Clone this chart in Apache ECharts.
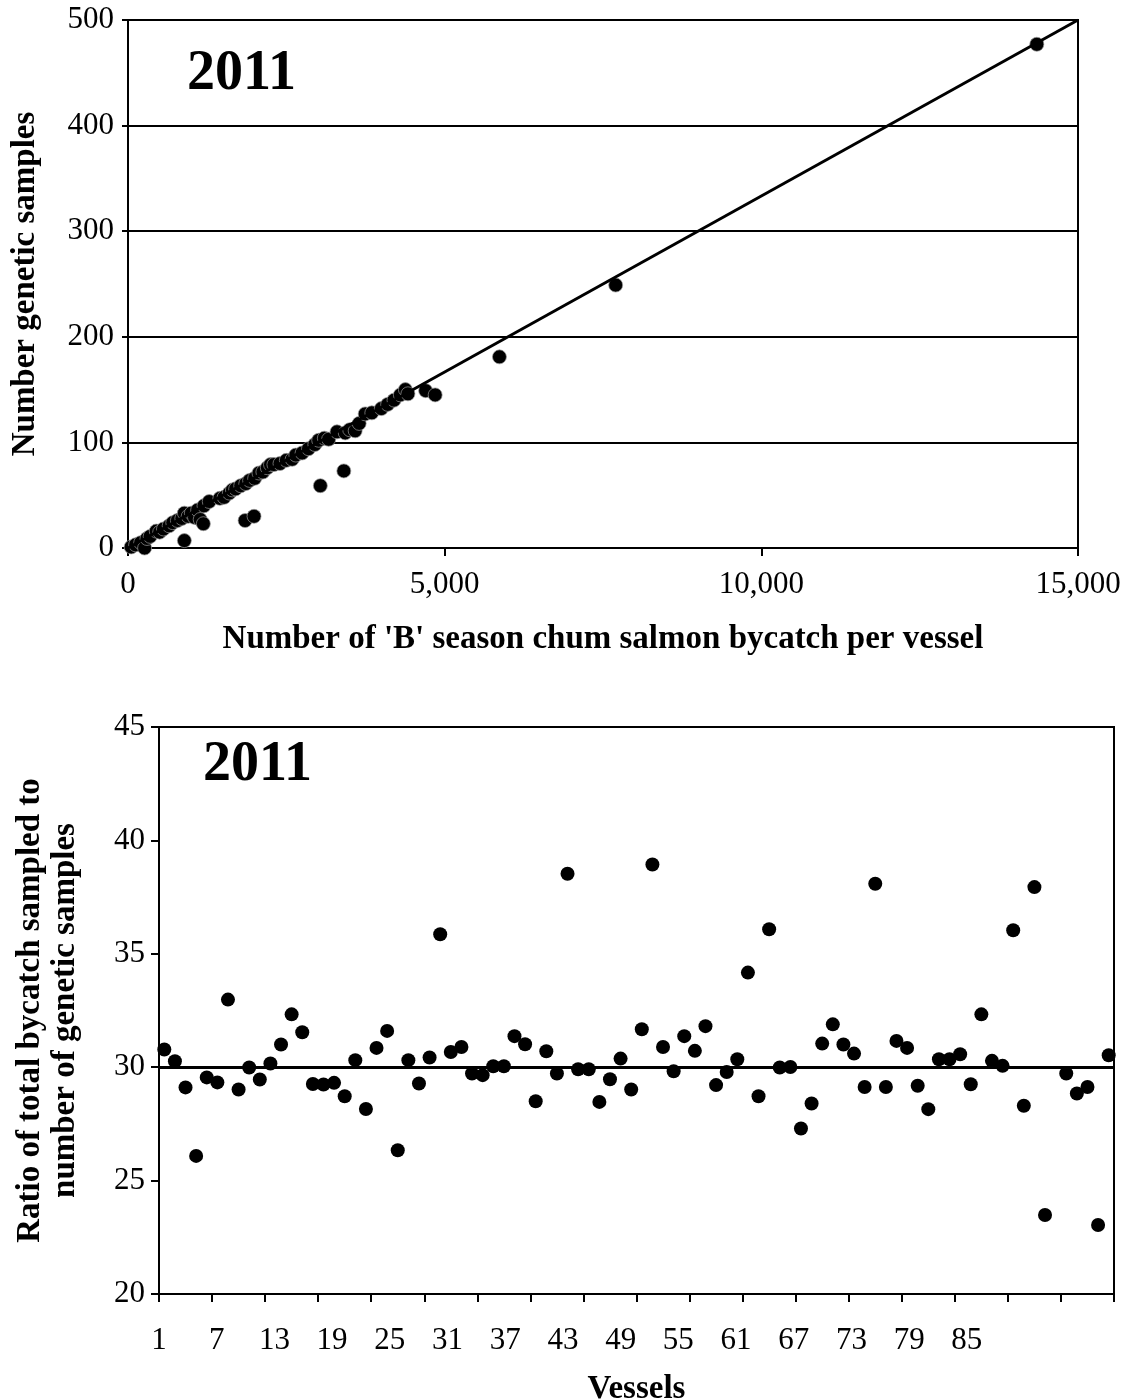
<!DOCTYPE html>
<html>
<head>
<meta charset="utf-8">
<script src="https://cdn.jsdelivr.net/npm/echarts@6/dist/echarts.min.js"></script>
<style>
  html, body { margin: 0; padding: 0; background: #fff; }
  #chart { width: 1134px; height: 1400px; }
</style>
</head>
<body>
<div id="chart"></div>
<script>
// top panel: 'B' season chum bycatch per vessel vs number of genetic samples
const bycatch = [50, 120, 200, 262, 300, 350, 446, 500, 560, 650, 707, 780, 850, 890, 890, 950, 1000, 1050, 1100, 1140,
  1190, 1200, 1283, 1450, 1518, 1600, 1649, 1700, 1780, 1849, 1860, 1920, 1990, 2000, 2068, 2130, 2200, 2250, 2304, 2400,
  2500, 2592, 2650, 2749, 2850, 2950, 3011, 3037, 3100, 3168, 3300, 3408, 3430, 3500, 3587, 3650, 3745, 3850, 4000, 4100,
  4200, 4300, 4380, 4420, 4700, 4850, 5865, 7700, 14350];
const samples = [1, 3, 5, 0, 9, 11, 16, 15, 18, 21, 24, 26, 28, 7, 33, 30, 33, 29, 36, 27,
  23, 40, 44, 47, 48, 52, 55, 56, 59, 26, 61, 64, 30, 66, 71, 72, 76, 79, 79, 80,
  83, 84, 88, 90, 94, 98, 102, 59, 104, 103, 110, 73, 109, 112, 111, 118, 127, 128, 132, 136,
  140, 145, 150, 146, 149, 145, 181, 249, 477];
const refLineX = [0, 15000];
const refLineY = [0, 500];

// bottom panel: ratio of bycatch sampled to genetic samples, per vessel
const vessels = ['1','2','3','4','5','6','7','8','9','10','11','12','13','14','15','16','17','18','19','20',
  '21','22','23','24','25','26','27','28','29','30','31','32','33','34','35','36','37','38','39','40',
  '41','42','43','44','45','46','47','48','49','50','51','52','53','54','55','56','57','58','59','60',
  '61','62','63','64','65','66','67','68','69','70','71','72','73','74','75','76','77','78','79','80',
  '81','82','83','84','85','86','87','88','89','90'];
const ratio = [30.78, 30.26, 29.11, 26.09, 29.55, 29.33, 32.98, 29.02, 29.99, 29.46,
  30.16, 31.0, 32.33, 31.54, 29.26, 29.24, 29.31, 28.72, 30.31, 28.16,
  30.85, 31.6, 26.34, 30.31, 29.28, 30.43, 35.86, 30.67, 30.89, 29.72,
  29.65, 30.04, 30.04, 31.37, 31.01, 28.5, 30.7, 29.72, 38.53, 29.91,
  29.91, 28.47, 29.47, 30.38, 29.02, 31.67, 38.94, 30.89, 29.82, 31.37,
  30.72, 31.81, 29.21, 29.79, 30.35, 34.17, 28.72, 36.08, 29.99, 30.01,
  27.3, 28.4, 31.04, 31.89, 31.0, 30.6, 29.13, 38.09, 29.13, 31.16,
  30.85, 29.18, 28.15, 30.35, 30.35, 30.57, 29.25, 32.33, 30.28, 30.06,
  36.04, 28.3, 37.94, 23.48, '-', 29.72, 28.84, 29.13, 23.04, 30.53];
// the printed vessel labels sit on their own even spacing, not on the points
const vesselTickLabels = ['1', '7', '13', '19', '25', '31', '37', '43', '49', '55', '61', '67', '73', '79', '85'];
const targetRatio = 30;
const yearLabel = '2011';

const font = "'Liberation Serif', 'DejaVu Serif', serif";
const black = '#000';
const titleSize = 33;
const tickSize = 31;

const chart = echarts.init(document.getElementById('chart'));

const option = {
  backgroundColor: '#fff',
  animation: false,
  textStyle: { fontFamily: font, color: black },
  title: [
    { text: yearLabel, left: 182, top: 42, textStyle: { fontFamily: font, fontSize: 56, fontWeight: 'bold', color: black } },
    { text: yearLabel, left: 198, top: 733, textStyle: { fontFamily: font, fontSize: 56, fontWeight: 'bold', color: black } }
  ],
  grid: [
    { left: 128, right: 56, top: 20, height: 528, show: true, borderColor: black, borderWidth: 2, outerBoundsMode: 'none' },
    { left: 159, right: 20, top: 727, height: 567, show: true, borderColor: black, borderWidth: 2, outerBoundsMode: 'none' }
  ],
  xAxis: [
    {
      gridIndex: 0, type: 'value', min: 0, max: 15000, interval: 5000,
      name: "Number of 'B' season chum salmon bycatch per vessel",
      nameLocation: 'middle', nameGap: 75,
      nameTextStyle: { fontFamily: font, fontSize: titleSize, fontWeight: 'bold', color: black },
      axisLine: { show: true, lineStyle: { color: black, width: 2 } },
      axisTick: { show: true, inside: false, length: 8, lineStyle: { color: black, width: 2 } },
      axisLabel: { fontFamily: font, fontSize: tickSize, color: black, margin: 21,
        formatter: v => v.toLocaleString('en-US') },
      splitLine: { show: false }
    },
    {
      gridIndex: 1, type: 'category', data: vessels, boundaryGap: true,
      axisLine: { show: true, lineStyle: { color: black, width: 2 } },
      axisTick: { show: true, inside: false, interval: 4, length: 8, alignWithLabel: false, lineStyle: { color: black, width: 2 } },
      axisLabel: { show: false },
      splitLine: { show: false }
    },
    {
      gridIndex: 1, type: 'value', min: 0, max: 16.55, interval: 1, position: 'bottom',
      name: 'Vessels', nameLocation: 'middle', nameGap: 79,
      nameTextStyle: { fontFamily: font, fontSize: titleSize, fontWeight: 'bold', color: black },
      axisLine: { show: false },
      axisTick: { show: false },
      axisLabel: { fontFamily: font, fontSize: tickSize, color: black, margin: 31,
        showMinLabel: true, showMaxLabel: false,
        formatter: v => (Number.isInteger(v) && vesselTickLabels[v]) ? vesselTickLabels[v] : '' },
      splitLine: { show: false }
    }
  ],
  yAxis: [
    {
      gridIndex: 0, type: 'value', min: 0, max: 500, interval: 100,
      name: 'Number genetic samples', nameLocation: 'middle', nameGap: 86, nameRotate: 90,
      nameTextStyle: { fontFamily: font, fontSize: titleSize, fontWeight: 'bold', color: black },
      axisLine: { show: true, lineStyle: { color: black, width: 2 } },
      axisTick: { show: true, inside: false, length: 6, lineStyle: { color: black, width: 2 } },
      axisLabel: { fontFamily: font, fontSize: tickSize, color: black, margin: 14 },
      splitLine: { show: true, lineStyle: { color: black, width: 2 } }
    },
    {
      gridIndex: 1, type: 'value', min: 20, max: 45, interval: 5,
      name: 'Ratio of total bycatch sampled to\nnumber of genetic samples',
      nameLocation: 'middle', nameGap: 76, nameRotate: 90,
      nameTextStyle: { fontFamily: font, fontSize: titleSize, fontWeight: 'bold', color: black, lineHeight: 35 },
      axisLine: { show: true, lineStyle: { color: black, width: 2 } },
      axisTick: { show: true, inside: false, length: 8, lineStyle: { color: black, width: 2 } },
      axisLabel: { fontFamily: font, fontSize: tickSize, color: black, margin: 14 },
      splitLine: { show: false }
    }
  ],
  series: [
    {
      type: 'scatter', xAxisIndex: 0, yAxisIndex: 0,
      data: bycatch.map((b, i) => [b, samples[i]]),
      symbol: 'circle', symbolSize: 14,
      itemStyle: { color: black, opacity: 1, borderColor: '#999', borderWidth: 0.7 }
    },
    {
      type: 'line', xAxisIndex: 0, yAxisIndex: 0,
      data: refLineX.map((x, i) => [x, refLineY[i]]),
      showSymbol: false, symbol: 'none',
      lineStyle: { color: black, width: 3 }, z: 3
    },
    {
      type: 'scatter', xAxisIndex: 1, yAxisIndex: 1,
      data: ratio,
      symbol: 'circle', symbolSize: 14,
      itemStyle: { color: black, opacity: 1 },
      markLine: {
        silent: true, symbol: 'none', label: { show: false },
        lineStyle: { color: black, width: 3, type: 'solid', opacity: 1 },
        data: [{ yAxis: targetRatio }]
      }
    }
  ]
};

chart.setOption(option);
</script>
</body>
</html>
